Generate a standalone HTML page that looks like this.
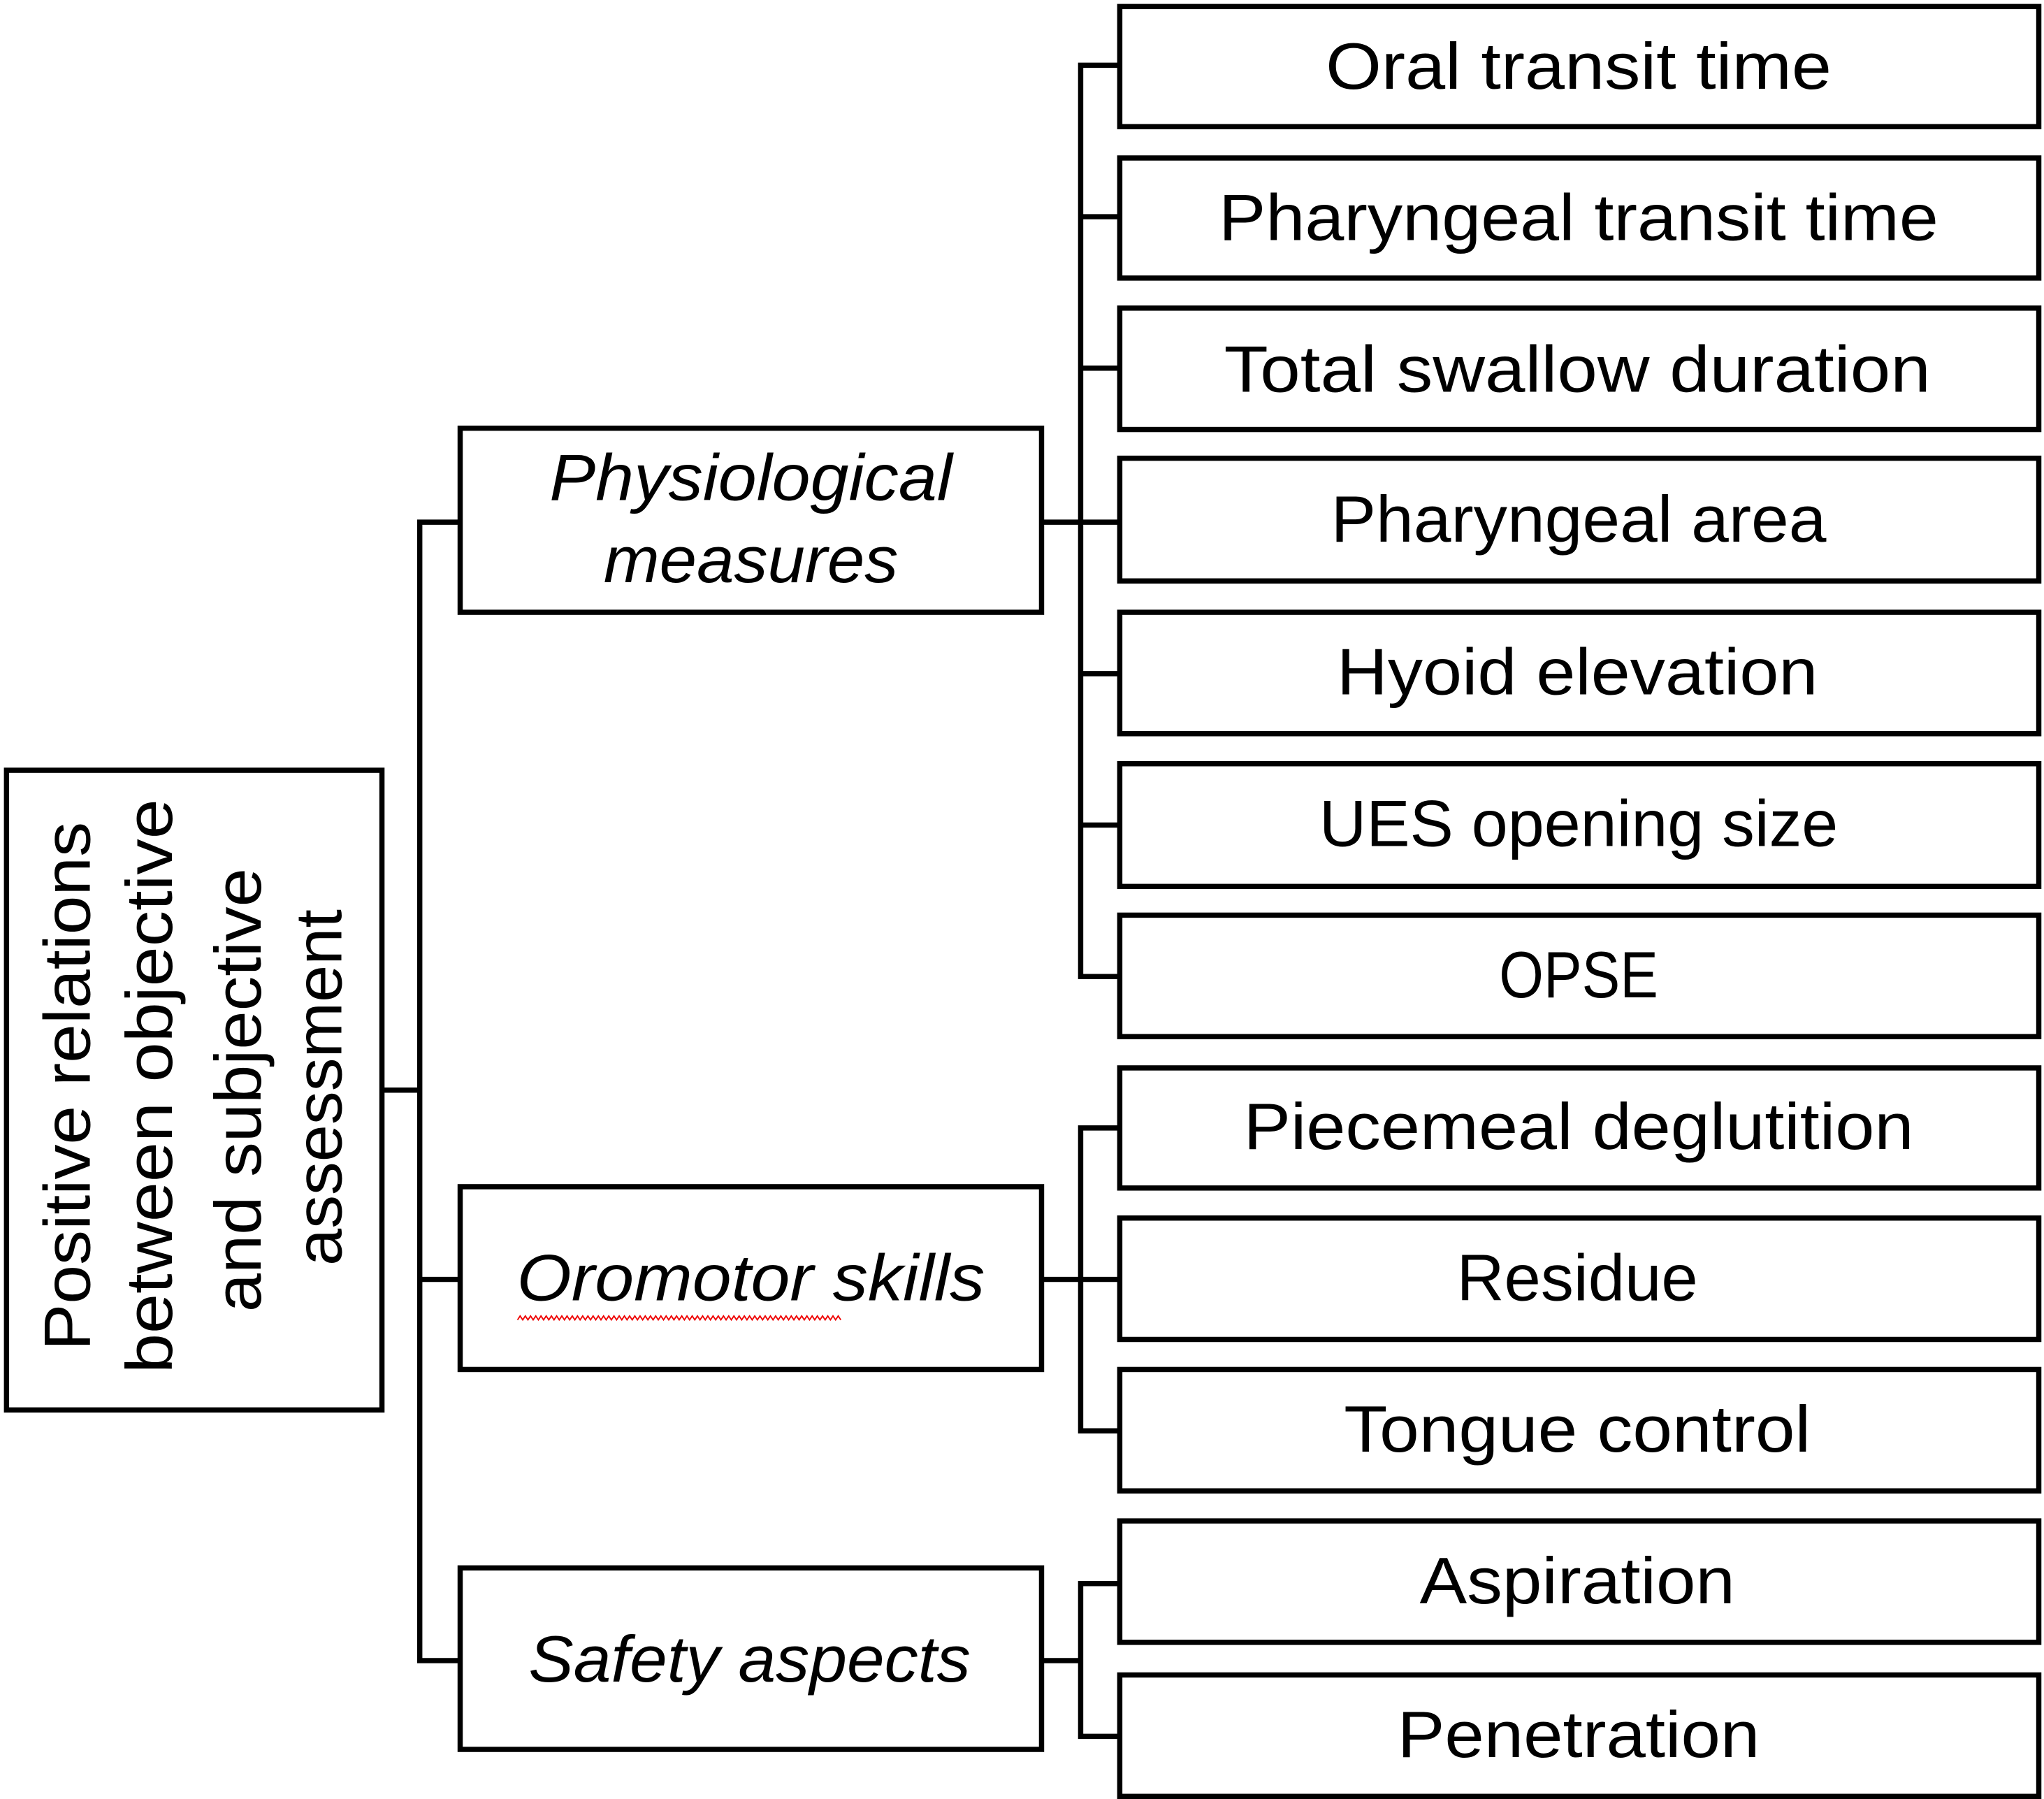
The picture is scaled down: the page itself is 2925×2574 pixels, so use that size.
<!DOCTYPE html>
<html><head><meta charset="utf-8"><style>html,body{margin:0;padding:0;background:#fff}svg{display:block}</style></head>
<body>
<svg width="2925" height="2574" viewBox="0 0 1568 1378" preserveAspectRatio="none" xmlns="http://www.w3.org/2000/svg">
<g fill="none" stroke="#000" stroke-width="4">
<rect x="5" y="590" width="288" height="490"/>
<rect x="353" y="328" width="446" height="141"/>
<rect x="353" y="909" width="446" height="140"/>
<rect x="353" y="1201" width="446" height="139"/>
<rect x="859" y="5" width="705" height="92"/>
<rect x="859" y="121" width="705" height="92"/>
<rect x="859" y="236" width="705" height="93"/>
<rect x="859" y="351" width="705" height="94"/>
<rect x="859" y="469" width="705" height="93"/>
<rect x="859" y="585" width="705" height="94"/>
<rect x="859" y="701" width="705" height="93"/>
<rect x="859" y="818" width="705" height="92"/>
<rect x="859" y="933" width="705" height="93"/>
<rect x="859" y="1049" width="705" height="93"/>
<rect x="859" y="1165" width="705" height="93"/>
<rect x="859" y="1283" width="705" height="93"/>
<path d="M293 835H322M353 400H322V1272H353M322 980H353"/>
<path d="M799 400H859M859 50H829V748H859M829 166H859M829 282H859M829 516H859M829 632H859"/>
<path d="M799 980H859M859 864H829V1096H859"/>
<path d="M799 1272H829M859 1213H829V1330H859"/>
</g>
<path d="M397 1011 l2 -3 l2 3 l2 -3 l2 3 l2 -3 l2 3 l2 -3 l2 3 l2 -3 l2 3 l2 -3 l2 3 l2 -3 l2 3 l2 -3 l2 3 l2 -3 l2 3 l2 -3 l2 3 l2 -3 l2 3 l2 -3 l2 3 l2 -3 l2 3 l2 -3 l2 3 l2 -3 l2 3 l2 -3 l2 3 l2 -3 l2 3 l2 -3 l2 3 l2 -3 l2 3 l2 -3 l2 3 l2 -3 l2 3 l2 -3 l2 3 l2 -3 l2 3 l2 -3 l2 3 l2 -3 l2 3 l2 -3 l2 3 l2 -3 l2 3 l2 -3 l2 3 l2 -3 l2 3 l2 -3 l2 3 l2 -3 l2 3 l2 -3 l2 3 l2 -3 l2 3 l2 -3 l2 3 l2 -3 l2 3 l2 -3 l2 3 l2 -3 l2 3 l2 -3 l2 3 l2 -3 l2 3 l2 -3 l2 3 l2 -3 l2 3 l2 -3 l2 3 l2 -3 l2 3 l2 -3 l2 3 l2 -3 l2 3 l2 -3 l2 3 l2 -3 l2 3 l2 -3 l2 3 l2 -3 l2 3 l2 -3 l2 3 l2 -3 l2 3 l2 -3 l2 3 l2 -3 l2 3 l2 -3 l2 3 l2 -3 l2 3 l2 -3 l2 3 l2 -3 l2 3 l2 -3 l2 3 l2 -3 l2 3 l2 -3 l2 3 l2 -3 l2 3 l2 -3 l2 3" fill="none" stroke="#e00" stroke-width="1"/>
<g font-family="'Liberation Sans', sans-serif" font-size="50" fill="#000" text-anchor="middle">
<text x="1211" y="68" textLength="388" lengthAdjust="spacingAndGlyphs">Oral transit time</text>
<text x="1211" y="184" textLength="552" lengthAdjust="spacingAndGlyphs">Pharyngeal transit time</text>
<text x="1210" y="300" textLength="542" lengthAdjust="spacingAndGlyphs">Total swallow duration</text>
<text x="1211" y="415" textLength="380" lengthAdjust="spacingAndGlyphs">Pharyngeal area</text>
<text x="1210" y="532" textLength="369" lengthAdjust="spacingAndGlyphs">Hyoid elevation</text>
<text x="1211" y="648" textLength="398" lengthAdjust="spacingAndGlyphs">UES opening size</text>
<text x="1211" y="764" textLength="122" lengthAdjust="spacingAndGlyphs">OPSE</text>
<text x="1211" y="880" textLength="514" lengthAdjust="spacingAndGlyphs">Piecemeal deglutition</text>
<text x="1210" y="996" textLength="185" lengthAdjust="spacingAndGlyphs">Residue</text>
<text x="1210" y="1112" textLength="358" lengthAdjust="spacingAndGlyphs">Tongue control</text>
<text x="1210" y="1228" textLength="242" lengthAdjust="spacingAndGlyphs">Aspiration</text>
<text x="1211" y="1346" textLength="278" lengthAdjust="spacingAndGlyphs">Penetration</text>
<g font-style="italic">
<text x="576" y="383" textLength="309" lengthAdjust="spacingAndGlyphs">Physiological</text>
<text x="576" y="446" textLength="226" lengthAdjust="spacingAndGlyphs">measures</text>
<text x="576" y="996" textLength="359" lengthAdjust="spacingAndGlyphs">Oromotor skills</text>
<text x="575" y="1288" textLength="339" lengthAdjust="spacingAndGlyphs">Safety aspects</text>
</g>
<text transform="translate(69,832) rotate(-90)" textLength="405" lengthAdjust="spacingAndGlyphs">Positive relations</text>
<text transform="translate(132,832) rotate(-90)" textLength="440" lengthAdjust="spacingAndGlyphs">between objective</text>
<text transform="translate(200,835) rotate(-90)" textLength="340" lengthAdjust="spacingAndGlyphs">and subjective</text>
<text transform="translate(262,833) rotate(-90)" textLength="273" lengthAdjust="spacingAndGlyphs">assessment</text>
</g>
</svg>
</body></html>
